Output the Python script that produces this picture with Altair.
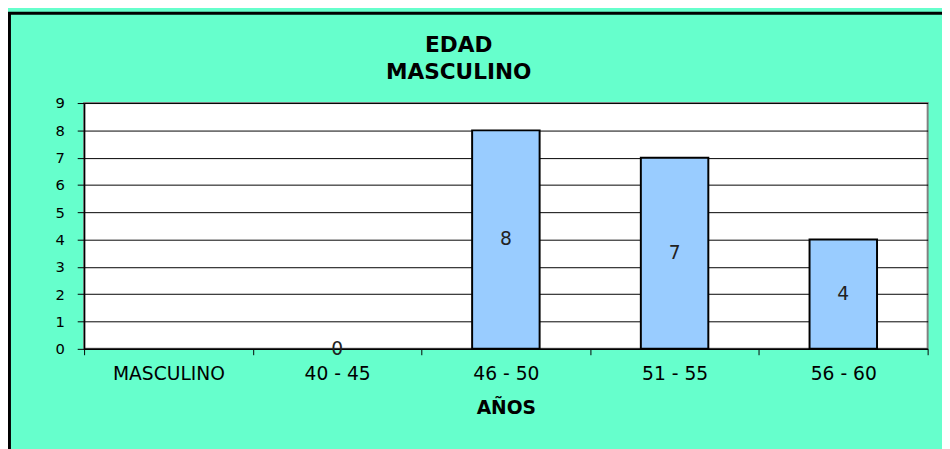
import altair as alt
import pandas as pd

categories = ["MASCULINO", "40 - 45", "46 - 50", "51 - 55", "56 - 60"]
values = [None, 0, 8, 7, 4]
y_ticks = [0, 1, 2, 3, 4, 5, 6, 7, 8, 9]

df = pd.DataFrame({"cat": categories, "val": values})
FONT = "DejaVu Sans"

x_scale = alt.Scale(domain=categories, paddingInner=0, paddingOuter=0)
y_scale = alt.Scale(domain=[0, 9], nice=False)

x_axis = alt.Axis(
    title="AÑOS",
    labelAngle=0,
    tickBand="extent",
    tickSize=6,
    labelPadding=10,
    labelFontSize=19,
    titleFontSize=19,
    titleFontWeight="bold",
    titlePadding=16,
    grid=False,
)
y_axis = alt.Axis(
    title=None,
    values=y_ticks,
    tickSize=7,
    labelPadding=13,
    labelFontSize=15,
    labelOverlap=False,
    grid=True,
    gridColor="black",
    gridOpacity=1,
    gridWidth=1,
)

base = alt.Chart(df)

bars = base.transform_filter("datum.val != null && datum.val > 0").mark_bar(
    color="#99CCFF", stroke="black", strokeWidth=2, width=alt.RelativeBandSize(0.4)
).encode(
    x=alt.X("cat:N", sort=categories, scale=x_scale, axis=x_axis),
    y=alt.Y("val:Q", scale=y_scale, axis=y_axis),
)

labels = base.transform_filter("datum.val != null").transform_calculate(
    mid="datum.val / 2"
).mark_text(font=FONT, fontSize=19, color="#222222", baseline="middle").encode(
    x=alt.X("cat:N", sort=categories, scale=x_scale, axis=x_axis),
    y=alt.Y("mid:Q", scale=y_scale, axis=y_axis),
    text=alt.Text("val:Q"),
)

border = alt.Chart(pd.DataFrame({"a": [0]})).mark_rect(
    fill="transparent", stroke="black", strokeWidth=3
).encode(
    x=alt.value(-75.9), y=alt.value(-91.4), x2=alt.value(1100), y2=alt.value(600)
)

chart = alt.layer(bars, labels, border).properties(
    width=858,
    height=250,
    autosize=alt.AutoSizeParams(type="none"),
    padding={"left": 77.4, "top": 92.9, "right": 14.6, "bottom": 98.1},
    background="#66FFCC",
    title=alt.TitleParams(
        text=["EDAD", "MASCULINO"],
        font=FONT,
        fontSize=22,
        fontWeight="bold",
        color="black",
        lineHeight=27,
        anchor="middle",
        dx=-48,
        dy=73,
        offset=0,
    ),
).configure_view(
    fill="white", stroke="#808080", strokeWidth=2
).configure_axis(
    labelFont=FONT,
    titleFont=FONT,
    labelColor="black",
    titleColor="black",
    tickColor="black",
    domainColor="black",
    domainWidth=1.5,
)

chart.save("out.html", embed_options={"renderer": "svg", "actions": False})
